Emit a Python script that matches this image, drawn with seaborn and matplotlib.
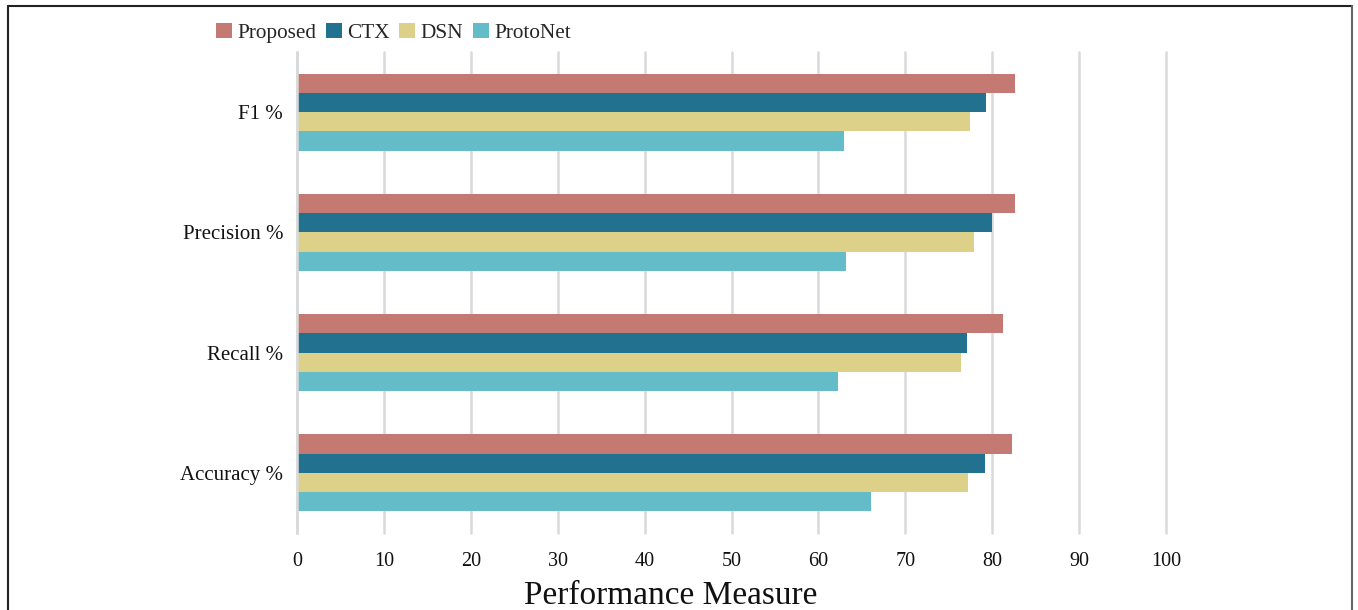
import matplotlib
matplotlib.use("Agg")
import matplotlib.pyplot as plt
from matplotlib.lines import Line2D
import seaborn as sns
import pandas as pd

metrics = ["F1 %", "Precision %", "Recall %", "Accuracy %"]
models = ["Proposed", "CTX", "DSN", "ProtoNet"]
proposed = [82.6, 82.6, 81.2, 82.3]
ctx = [79.3, 80.0, 77.1, 79.2]
dsn = [77.5, 77.9, 76.4, 77.2]
protonet = [63.0, 63.2, 62.2, 66.1]
xticks = [0, 10, 20, 30, 40, 50, 60, 70, 80, 90, 100]
colors = ["#C47A73", "#22718F", "#DDD18A", "#63BCC8"]

rows = []
for model, vals in zip(models, [proposed, ctx, dsn, protonet]):
    for m, v in zip(metrics, vals):
        rows.append({"Metric": m, "Model": model, "Value": v})
df = pd.DataFrame(rows)

sns.set_theme(style="white")
plt.rcParams["font.family"] = ["Liberation Serif", "DejaVu Serif"]

fig = plt.figure(figsize=(13.58, 6.10), dpi=100)
ax = fig.add_axes([297 / 1358, 1 - 533 / 610, (1166 - 297) / 1358, (533 - 52) / 610])

sns.barplot(data=df, y="Metric", x="Value", hue="Model", order=metrics,
            hue_order=models, palette=colors, orient="h", width=0.64,
            saturation=1, linewidth=0, ax=ax, legend=True)

ax.set_xlim(0, 100)
ax.set_ylim(3.5, -0.5)
ax.set_xticks(xticks)
ax.set_xticklabels([str(t) for t in xticks])
ax.grid(axis="x", color="#D9D9D9", linewidth=1.8)
ax.grid(axis="y", visible=False)
for gl in ax.get_xgridlines():
    gl.set_clip_on(False)
ax.set_axisbelow(True)
for s in ["top", "right", "bottom"]:
    ax.spines[s].set_visible(False)
ax.spines["left"].set_color("#D9D9D9")
ax.spines["left"].set_linewidth(1.8)
ax.tick_params(axis="x", length=0, pad=14, labelsize=14.5, colors="#111111")
ax.tick_params(axis="y", which="major", length=0, pad=10, labelsize=15, colors="#111111")
ax.set_yticks([-0.5, 0.5, 1.5, 2.5, 3.5], minor=True)
ax.tick_params(axis="y", which="minor", direction="inout", length=12, width=1.8, color="#D9D9D9")
ax.set_ylabel("")
ax.set_xlabel("Performance Measure", fontsize=24, color="#111111")
ax.xaxis.set_label_coords((671 - 297) / 869, -0.098)

handles, labels = ax.get_legend_handles_labels()
ax.get_legend().remove()
fig.legend(handles, labels, loc="center left", bbox_to_anchor=(216 / 1358, 1 - 33 / 610),
           ncol=4, frameon=False, fontsize=15.3, handlelength=0.75, handleheight=0.75,
           handletextpad=0.25, columnspacing=0.45, borderaxespad=0, borderpad=0)

# figure border
fig.add_artist(Line2D([8 / 1358, 8 / 1358], [0, 1 - 6 / 610], color="#222222", linewidth=1.5))
fig.add_artist(Line2D([8 / 1358, 1352 / 1358], [1 - 6 / 610, 1 - 6 / 610], color="#222222", linewidth=1.5))
fig.add_artist(Line2D([1352 / 1358, 1352 / 1358], [0, 1 - 6 / 610], color="#666666", linewidth=1.5))

fig.savefig("out.png", dpi=100)
